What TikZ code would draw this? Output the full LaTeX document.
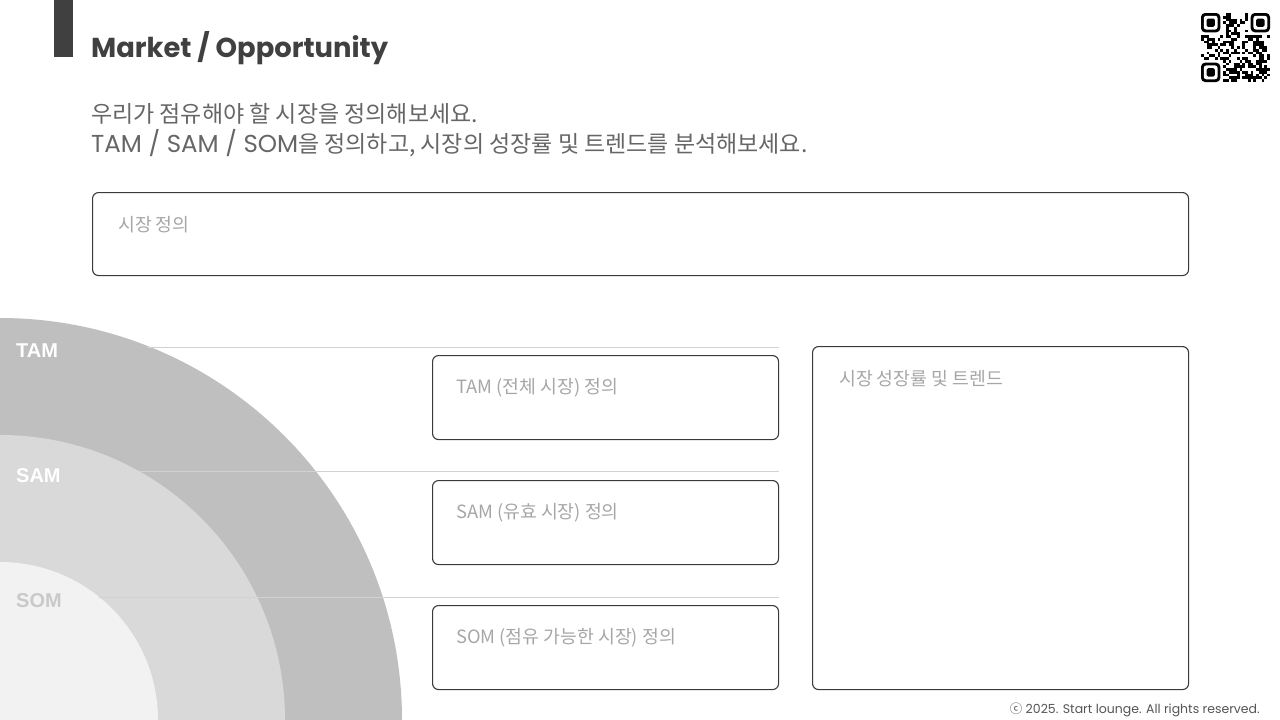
\documentclass[tikz,border=0pt]{standalone}
\usepackage{fontspec}
\setmainfont{Poppins}
\newfontfamily\kr{Noto Sans CJK KR}
\newfontfamily\lab{Liberation Sans}
\definecolor{barc}{HTML}{404040}
\definecolor{titlec}{HTML}{404040}
\definecolor{subc}{HTML}{666666}
\definecolor{boxc}{HTML}{3A3A3A}
\definecolor{boxtxt}{HTML}{A6A6A6}
\definecolor{cA}{HTML}{BFBFBF}
\definecolor{cB}{HTML}{D9D9D9}
\definecolor{cC}{HTML}{F2F2F2}
\definecolor{linec}{HTML}{D2D2D2}
\definecolor{footc}{HTML}{555555}
\tikzset{
  panel/.style={draw=boxc, line width=1.1pt, rounded corners=6pt, inner sep=0pt, anchor=north west},
  paneltext/.style={anchor=west, inner sep=0pt, text=boxtxt, font=\kr\fontsize{18.3}{22}\selectfont},
  ringlabel/.style={anchor=west, inner sep=0pt, font=\lab\bfseries\fontsize{20}{24}\selectfont},
  hline/.style={draw=linec, line width=1pt},
}
\begin{document}
\begin{tikzpicture}[x=1pt,y=-1pt]
\useasboundingbox (0,0) rectangle (1280,720);
\begin{scope}
\clip (0,0) rectangle (1280,720);
\fill[cA] (0,720) circle (402pt);
\fill[cB] (0,720) circle (285pt);
\fill[cC] (0,720) circle (158pt);
\end{scope}
% title bar and title
\fill[barc] (54,0) rectangle (73,57);
\node[anchor=base west, inner sep=0pt, text=titlec, font=\bfseries\fontsize{27.4}{33}\selectfont] (title) at (91,57) {Market / Opportunity};
\node[anchor=base west, inner sep=0pt, text=subc, font=\kr\fontsize{23}{28}\selectfont] (sub1) at (91,122.5) {우리가 점유해야 할 시장을 정의해보세요.};
\node[anchor=base west, inner sep=0pt, text=subc, font=\kr\fontsize{23}{28}\selectfont] (sub2) at (91,152.5) {{\rmfamily\fontsize{24.5}{28}\selectfont TAM / SAM / SOM}을 정의하고, 시장의 성장률 및 트렌드를 분석해보세요.};
% QR code
\begin{scope}
\pgfmathsetseed{42}
\foreach \i in {0,...,24}{
  \foreach \j in {0,...,24}{
    \pgfmathrandominteger{\qr}{0}{1}
    \pgfmathtruncatemacro{\qskipA}{or(or(and(\i<8,\j<8),and(\i>16,\j<8)),and(\i<8,\j>16))}
    \ifnum\qskipA=0 \ifnum\qr=1
      \fill (1201+\i*2.76,13+\j*2.76) rectangle ++(2.76,2.76);
    \fi\fi
  }
}
\foreach \fx/\fy in {1201/13, 1250.7/13, 1201/62.7}{
  \fill[rounded corners=4pt] (\fx,\fy) rectangle ++(19.3,19.3);
  \fill[white, rounded corners=2.5pt] (\fx+2.76,\fy+2.76) rectangle ++(13.8,13.8);
  \fill[rounded corners=1.5pt] (\fx+5.52,\fy+5.52) rectangle ++(8.28,8.28);
}
\end{scope}
% panels
\node[panel, minimum width=1096pt, minimum height=83pt] (defbox) at (92,192) {};
\node[paneltext] (deftxt) at (118,224.5) {시장 정의};
\node[panel, minimum width=346pt, minimum height=84pt] (tambox) at (432,355) {};
\node[paneltext] (tamtxt) at (456,387.5) {TAM (전체 시장) 정의};
\node[panel, minimum width=346pt, minimum height=84pt] (sambox) at (432,480) {};
\node[paneltext] (samtxt) at (456,512.5) {SAM (유효 시장) 정의};
\node[panel, minimum width=346pt, minimum height=84pt] (sombox) at (432,605) {};
\node[paneltext] (somtxt) at (456,637.5) {SOM (점유 가능한 시장) 정의};
\node[panel, minimum width=376pt, minimum height=343pt] (trendbox) at (812,346) {};
\node[paneltext] (trendtxt) at (839,378.5) {시장 성장률 및 트렌드};
% separator lines
\coordinate (l1) at (147,347);
\coordinate (l2) at (139,471);
\coordinate (l3) at (99,597);
\draw[hline] (l1) -- (l1 -| tambox.east);
\draw[hline] (l2) -- (l2 -| sambox.east);
\draw[hline] (l3) -- (l3 -| sombox.east);
% ring labels
\node[ringlabel, text=white] (tam) at (16,351) {TAM};
\node[ringlabel, text=white] (sam) at (16,476) {SAM};
\node[ringlabel, text=cA!85!white] (som) at (16,601) {SOM};
% footer
\node[anchor=base east, inner sep=0pt, text=footc, font=\fontsize{12.5}{15}\selectfont] (foot) at (1260,713) {{\kr ⓒ} 2025. Start lounge. All rights reserved.};
\end{tikzpicture}
\end{document}
